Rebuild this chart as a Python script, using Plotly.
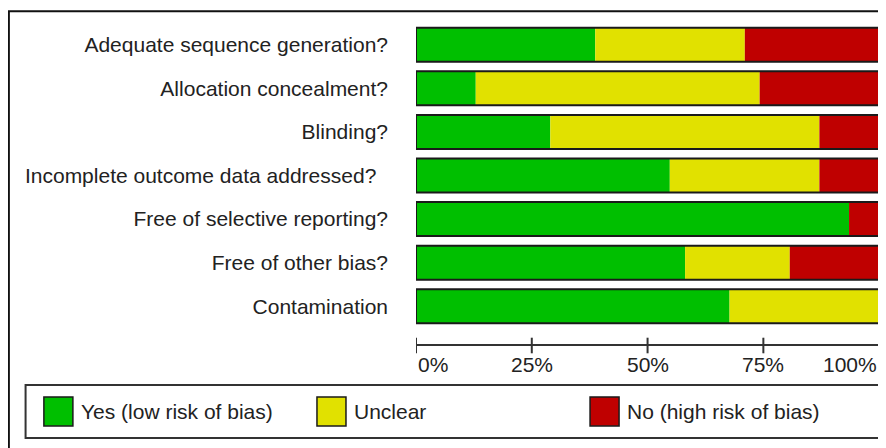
import plotly.graph_objects as go

# ---- data ----
categories = [
    "Adequate sequence generation?",
    "Allocation concealment?",
    "Blinding?",
    "Incomplete outcome data addressed?\u00a0\u00a0",
    "Free of selective reporting?",
    "Free of other bias?",
    "Contamination",
]
yes_low = [38.7, 12.9, 29.0, 54.8, 93.5, 58.1, 67.7]
unclear = [32.3, 61.3, 58.1, 32.3, 0.0, 22.6, 32.3]
no_high = [29.0, 25.8, 12.9, 12.9, 6.5, 19.4, 0.0]

series_names = ["Yes (low risk of bias)", "Unclear", "No (high risk of bias)"]
series_colors = ["#00BF00", "#E1E100", "#BF0000"]

tick_vals = [0, 25, 50, 75, 100]
tick_text = ["0%", "25%", "50%", "75%", "100%"]

# ---- geometry helpers (page pixels -> paper); page body has an 8px margin ----
OFF = 8
W, H = 886, 448 - OFF
XMAX = 100.4
PL, PT, PB = 416, 22.7, 345  # plot area in page pixels
PX100 = 879                  # page pixel of the 100% tick
PR = PL + (PX100 - PL) * XMAX / 100.0


def px(x):
    return (x - PL) / (PR - PL)


def py(y):
    return (PB - y) / (PB - PT)


FONT = "Liberation Sans, Arial, sans-serif"
TXT = "#222222"

fig = go.Figure()

series = [yes_low, unclear, no_high]
bases = [[0.0] * len(categories)]
for s in series[:-1]:
    bases.append([b + v for b, v in zip(bases[-1], s)])

for name, vals, base, col in zip(series_names, series, bases, series_colors):
    fig.add_trace(go.Bar(
        y=categories, x=vals, base=base, orientation="h", name=name,
        marker=dict(color=col, line=dict(width=0)), showlegend=False,
    ))

totals = [a + b + c for a, b, c in zip(yes_low, unclear, no_high)]
fig.add_trace(go.Bar(
    y=categories, x=totals, base=[0] * len(categories), orientation="h",
    marker=dict(color="rgba(0,0,0,0)", line=dict(color="#1a1a1a", width=2)),
    showlegend=False, hoverinfo="skip",
))

fig.update_layout(
    width=W, height=H,
    margin=dict(l=PL - OFF, r=max(0, (OFF + W) - PR), t=PT - OFF, b=(OFF + H) - PB, pad=0),
    barmode="overlay", bargap=0.22,
    plot_bgcolor="white", paper_bgcolor="white",
    font=dict(family=FONT, size=21, color=TXT),
)
fig.update_xaxes(
    range=[0, XMAX], showgrid=False, zeroline=False,
    showline=False, ticks="", showticklabels=False, fixedrange=True,
)
fig.update_yaxes(
    type="category", categoryorder="array", categoryarray=categories,
    range=[6.89, -0.5], showgrid=False, zeroline=False, showline=False,
    ticks="", ticklabelstandoff=27,
    tickfont=dict(family=FONT, size=21, color=TXT),
)

shapes = []
annotations = []

# axis line from first to last tick
shapes.append(dict(type="line", xref="x", yref="paper",
                   x0=tick_vals[0], x1=tick_vals[-1], y0=0, y1=0,
                   line=dict(color="#333333", width=2)))
# ticks crossing the axis line
for i, (tv, tt) in enumerate(zip(tick_vals, tick_text)):
    shapes.append(dict(type="line", xref="x", yref="paper",
                       x0=tv, x1=tv, y0=py(353.3), y1=py(337.7),
                       line=dict(color="#333333", width=2)))
    anchor = "left" if i == 0 else ("right" if i == len(tick_vals) - 1 else "center")
    annotations.append(dict(x=tv, y=py(364.5), xref="x", yref="paper",
                            text=tt, showarrow=False, xanchor=anchor, yanchor="middle",
                            font=dict(family=FONT, size=21, color=TXT)))

# outer frame
shapes.append(dict(type="rect", xref="paper", yref="paper",
                   x0=px(9), x1=px(905), y0=py(11), y1=py(470),
                   line=dict(color="#111111", width=2)))

# legend box
shapes.append(dict(type="rect", xref="paper", yref="paper",
                   x0=px(25.7), x1=px(881), y0=py(385), y1=py(438),
                   line=dict(color="#333333", width=2)))
sw_x = [44, 317, 590]
for name, col, x0 in zip(series_names, series_colors, sw_x):
    shapes.append(dict(type="rect", xref="paper", yref="paper",
                       x0=px(x0), x1=px(x0 + 29), y0=py(397), y1=py(426),
                       fillcolor=col, line=dict(color="#1a1a1a", width=1.5)))
    annotations.append(dict(x=px(x0 + 35), y=py(411.5), xref="paper", yref="paper",
                            text=name, showarrow=False, xanchor="left", yanchor="middle",
                            font=dict(family=FONT, size=21, color=TXT)))

fig.update_layout(shapes=shapes, annotations=annotations)
fig.write_html("out.html")
